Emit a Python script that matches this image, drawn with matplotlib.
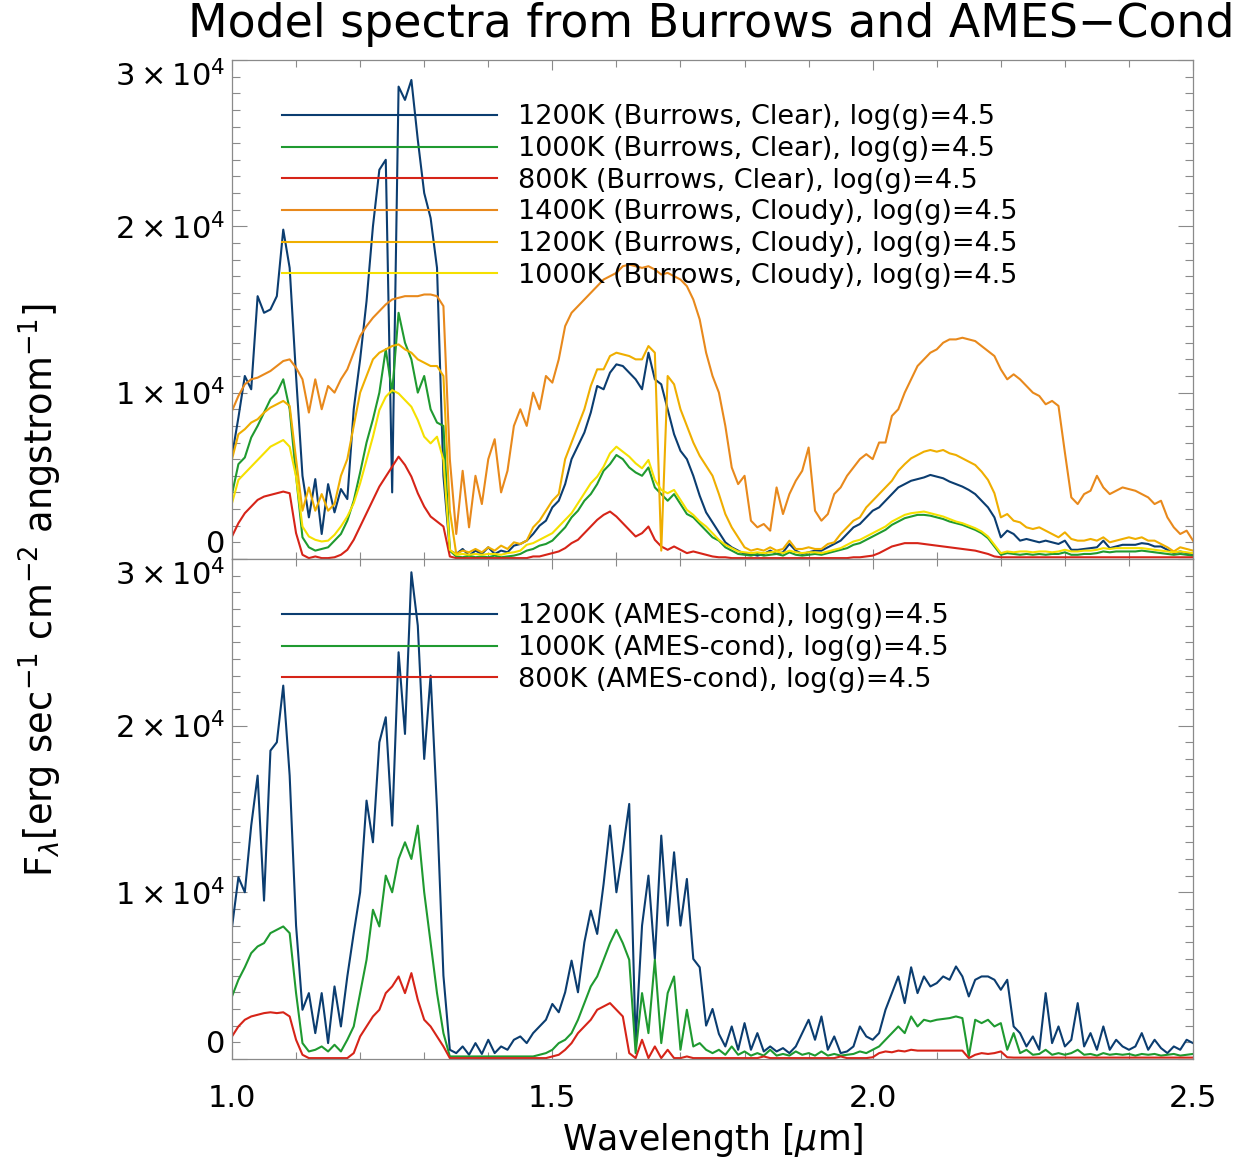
import numpy as np
import matplotlib
matplotlib.use("Agg")
import matplotlib.pyplot as plt
from matplotlib.ticker import MultipleLocator

# wavelength grid in micron (0.01 step, 1.00 ... 2.50)
wavelength = np.round(np.arange(100, 251) / 100.0, 2)

# fluxes, units of 1e3 erg s-1 cm-2 A-1
# --- Burrows models (top panel) ---
clear_1200 = [
    6.2, 8.5, 11.0, 10.2, 15.8, 14.8, 15.0, 15.8, 19.8, 17.5,
    11.0, 5.0, 2.5, 4.8, 1.5, 4.5, 2.8, 4.2, 3.6, 9.0,
    12.0, 15.5, 20.0, 23.4, 24.0, 4.0, 28.4, 27.6, 28.8, 25.2,
    22.0, 20.5, 17.5, 5.0, 0.5, 0.3, 0.6, 0.2, 0.5, 0.3,
    0.7, 0.3, 0.5, 0.4, 0.8, 0.9, 1.1, 1.5, 2.0, 2.3,
    3.1, 3.5, 4.5, 6.0, 6.8, 7.6, 8.8, 10.4, 10.2, 11.2,
    11.7, 11.6, 11.2, 10.8, 10.2, 12.4, 10.8, 10.5, 9.0, 7.5,
    6.5, 6.0, 5.0, 3.8, 2.8, 2.2, 1.6, 1.0, 0.7, 0.5,
    0.3, 0.3, 0.2, 0.3, 0.5, 0.3, 0.4, 0.9, 0.5, 0.3,
    0.4, 0.5, 0.5, 0.7, 0.9, 1.1, 1.5, 1.9, 2.1, 2.5,
    2.9, 3.1, 3.5, 3.9, 4.3, 4.5, 4.7, 4.8, 4.9, 5.05,
    4.95, 4.85, 4.65, 4.5, 4.35, 4.15, 3.9, 3.5, 3.1, 2.5,
    1.3, 1.7, 1.5, 1.1, 1.2, 1.1, 1.0, 1.1, 1.0, 0.9,
    1.1, 0.55, 0.55, 0.6, 0.65, 0.7, 1.1, 0.65, 0.75, 0.85,
    0.85, 0.85, 0.95, 0.9, 0.75, 0.75, 0.55, 0.35, 0.45, 0.35, 0.3]

clear_1000 = [
    3.9, 5.7, 6.1, 7.3, 8.0, 8.8, 9.6, 10.0, 10.8, 9.0,
    5.0, 1.3, 0.7, 0.5, 0.6, 0.7, 1.1, 1.5, 2.3, 3.5,
    5.2, 7.0, 8.4, 10.0, 12.6, 10.0, 14.8, 13.0, 12.0, 10.0,
    11.0, 9.0, 8.2, 8.0, 0.5, 0.15, 0.1, 0.2, 0.1, 0.15,
    0.1, 0.2, 0.1, 0.15, 0.2, 0.3, 0.5, 0.6, 0.8, 0.9,
    1.1, 1.5, 1.9, 2.5, 2.9, 3.5, 3.9, 4.5, 5.3, 5.7,
    6.25, 6.0, 5.5, 5.2, 5.0, 5.5, 4.3, 3.9, 3.5, 3.9,
    3.3, 2.7, 2.5, 2.1, 1.7, 1.3, 1.1, 0.7, 0.5, 0.3,
    0.25, 0.2, 0.3, 0.2, 0.25, 0.3, 0.2, 0.4, 0.25, 0.2,
    0.25, 0.3, 0.25, 0.35, 0.45, 0.55, 0.65, 0.85, 0.95, 1.15,
    1.35, 1.55, 1.75, 2.05, 2.25, 2.45, 2.55, 2.65, 2.65, 2.6,
    2.5, 2.4, 2.25, 2.15, 2.05, 1.9, 1.75, 1.55, 1.25, 0.75,
    0.25, 0.35, 0.3, 0.25, 0.3, 0.25, 0.3, 0.25, 0.3, 0.3,
    0.4, 0.25, 0.25, 0.3, 0.3, 0.35, 0.45, 0.4, 0.45, 0.45,
    0.45, 0.45, 0.5, 0.45, 0.4, 0.35, 0.3, 0.25, 0.3, 0.25, 0.2]

clear_800 = [
    1.35, 2.15, 2.75, 3.15, 3.55, 3.75, 3.85, 3.95, 4.05, 3.95,
    1.55, 0.25, 0.05, 0.15, 0.05, 0.05, 0.1, 0.25, 0.55, 1.15,
    1.95, 2.75, 3.55, 4.35, 4.95, 5.55, 6.15, 5.65, 4.95, 3.95,
    3.15, 2.55, 2.25, 1.95, 0.15, 0.05, 0.05, 0.05, 0.05, 0.05,
    0.05, 0.05, 0.05, 0.05, 0.05, 0.05, 0.05, 0.15, 0.15, 0.25,
    0.35, 0.45, 0.65, 0.95, 1.15, 1.55, 1.95, 2.35, 2.65, 2.85,
    2.55, 2.15, 1.75, 1.35, 1.55, 1.95, 1.15, 0.75, 0.55, 0.75,
    0.55, 0.35, 0.45, 0.35, 0.25, 0.15, 0.1, 0.1, 0.05, 0.05,
    0.05, 0.05, 0.05, 0.05, 0.05, 0.05, 0.05, 0.05, 0.05, 0.05,
    0.05, 0.05, 0.05, 0.05, 0.05, 0.05, 0.05, 0.1, 0.1, 0.15,
    0.2, 0.35, 0.55, 0.75, 0.85, 0.95, 0.95, 0.95, 0.9, 0.85,
    0.8, 0.75, 0.7, 0.65, 0.6, 0.55, 0.5, 0.4, 0.3, 0.15,
    0.1, 0.1, 0.1, 0.1, 0.1, 0.1, 0.1, 0.1, 0.1, 0.1,
    0.1, 0.1, 0.1, 0.1, 0.1, 0.1, 0.1, 0.1, 0.1, 0.1,
    0.1, 0.1, 0.1, 0.1, 0.1, 0.1, 0.1, 0.1, 0.1, 0.1, 0.1]

cloudy_1400 = [
    8.9, 9.8, 10.5, 10.8, 10.9, 11.1, 11.3, 11.6, 11.9, 12.0,
    11.5, 10.8, 8.8, 10.8, 9.0, 10.4, 10.0, 10.8, 11.4, 12.4,
    13.4, 14.0, 14.5, 14.9, 15.3, 15.6, 15.7, 15.8, 15.8, 15.8,
    15.9, 15.9, 15.8, 15.2, 6.0, 1.5, 5.3, 1.9, 5.0, 3.3,
    6.0, 7.2, 4.0, 5.3, 8.0, 9.0, 8.0, 10.0, 9.0, 11.0,
    10.6, 12.0, 14.0, 14.8, 15.2, 15.6, 16.0, 16.4, 16.8, 17.0,
    17.2, 17.6, 17.7, 17.6, 17.5, 17.6, 17.4, 17.1, 17.2, 17.0,
    16.8, 16.4, 15.6, 14.4, 12.4, 11.0, 10.0, 8.0, 5.5, 4.5,
    5.0, 2.3, 1.9, 2.1, 1.7, 4.3, 2.7, 3.9, 4.7, 5.3,
    6.7, 2.9, 2.3, 2.7, 3.9, 4.3, 5.0, 5.5, 6.0, 6.3,
    6.0, 7.0, 7.0, 8.6, 9.0, 10.0, 10.8, 11.6, 12.0, 12.4,
    12.6, 13.0, 13.2, 13.2, 13.3, 13.2, 13.1, 12.8, 12.5, 12.2,
    11.4, 10.8, 11.1, 10.8, 10.4, 10.0, 9.8, 9.3, 9.5, 9.2,
    6.4, 3.7, 3.3, 3.9, 4.1, 5.0, 4.3, 3.9, 4.1, 4.3,
    4.2, 4.1, 3.9, 3.7, 3.3, 3.5, 2.5, 1.9, 1.5, 1.7, 1.1]

cloudy_1200 = [
    6.0, 7.5, 7.8, 8.2, 8.4, 8.8, 9.1, 9.3, 9.5, 9.2,
    6.0, 2.9, 4.3, 2.9, 3.9, 2.9, 3.3, 5.0, 6.0, 8.0,
    10.0, 11.0, 12.0, 12.4, 12.6, 12.8, 12.9, 12.6, 12.4, 12.0,
    11.8, 11.6, 11.6, 11.0, 2.9, 0.3, 0.5, 0.4, 0.6, 0.4,
    0.7, 0.5, 0.8, 0.6, 1.0, 0.9, 1.1, 1.9, 2.3, 2.9,
    3.5, 3.9, 6.0, 7.0, 8.0, 9.0, 10.4, 11.4, 11.4, 12.2,
    12.4, 12.3, 12.2, 12.0, 12.0, 12.8, 12.4, 0.5, 11.0, 10.5,
    9.0, 8.0, 7.0, 6.2, 5.6, 5.0, 3.9, 2.7, 1.9, 1.3,
    0.7, 0.5, 0.6, 0.5, 0.7, 0.5, 0.6, 1.1, 0.6, 0.6,
    0.7, 0.6, 0.6, 0.9, 1.0, 1.5, 1.9, 2.3, 2.5, 3.1,
    3.5, 3.9, 4.3, 4.7, 5.3, 5.7, 6.05, 6.25, 6.45, 6.55,
    6.45, 6.55, 6.35, 6.25, 6.05, 5.85, 5.65, 5.25, 4.75, 3.95,
    2.5, 2.7, 2.3, 2.2, 1.9, 1.8, 1.9, 1.7, 1.5, 1.3,
    1.6, 1.2, 1.1, 1.1, 1.2, 1.1, 1.3, 1.0, 1.1, 1.2,
    1.3, 1.2, 1.3, 1.1, 1.1, 0.9, 0.7, 0.45, 0.7, 0.6, 0.5]

cloudy_1000 = [
    3.35, 4.75, 5.15, 5.55, 5.95, 6.35, 6.75, 6.95, 7.15, 6.75,
    4.95, 1.95, 1.35, 1.15, 1.05, 1.1, 1.45, 1.95, 2.55, 3.35,
    4.55, 5.95, 7.35, 8.95, 9.75, 10.15, 9.95, 9.55, 9.15, 8.35,
    7.35, 6.95, 7.35, 5.95, 0.55, 0.25, 0.3, 0.25, 0.3, 0.25,
    0.3, 0.3, 0.25, 0.35, 0.4, 0.5, 0.85, 0.95, 1.15, 1.35,
    1.55, 1.95, 2.35, 2.75, 3.35, 3.95, 4.55, 4.95, 5.55, 6.35,
    6.75, 6.45, 6.15, 5.75, 5.45, 5.95, 4.75, 4.15, 3.95, 4.15,
    3.55, 2.95, 2.65, 2.25, 1.95, 1.55, 1.15, 0.85, 0.65, 0.45,
    0.4, 0.35, 0.4, 0.35, 0.4, 0.45, 0.35, 0.5, 0.4, 0.35,
    0.4, 0.4, 0.35, 0.45, 0.55, 0.65, 0.85, 1.05, 1.15, 1.35,
    1.55, 1.75, 1.95, 2.25, 2.45, 2.65, 2.75, 2.8, 2.85, 2.75,
    2.65, 2.55, 2.4, 2.25, 2.15, 2.0, 1.85, 1.65, 1.35, 0.85,
    0.35, 0.45, 0.4, 0.45, 0.45, 0.4, 0.45, 0.45, 0.4, 0.45,
    0.55, 0.45, 0.45, 0.5, 0.5, 0.55, 0.65, 0.6, 0.65, 0.65,
    0.65, 0.65, 0.65, 0.6, 0.55, 0.5, 0.45, 0.4, 0.45, 0.4, 0.35]

# --- AMES-cond models (bottom panel) ---
ames_1200 = [
    7.9, 10.9, 10.0, 14.0, 17.0, 9.5, 18.5, 19.0, 22.4, 17.0,
    8.0, 2.95, 3.95, 1.55, 3.95, 0.95, 4.35, 1.95, 4.95, 7.55,
    10.0, 15.5, 13.0, 19.0, 20.5, 14.0, 24.4, 19.5, 29.2, 26.0,
    18.0, 23.0, 15.0, 5.0, 0.55, 0.35, 0.75, 0.25, 0.95, 0.3,
    1.15, 0.35, 0.75, 0.55, 1.15, 1.35, 0.95, 1.55, 1.95, 2.35,
    3.3, 2.8, 4.0, 5.9, 4.0, 7.0, 8.9, 7.5, 10.5, 14.0,
    10.0, 12.5, 15.3, 1.0, 8.0, 11.0, 6.0, 13.4, 8.0, 12.4,
    8.0, 10.8, 6.0, 5.5, 2.0, 3.0, 1.5, 0.75, 1.95, 0.55,
    2.15, 0.55, 1.55, 0.45, 0.75, 0.45, 0.65, 0.35, 0.75, 1.55,
    2.35, 1.15, 2.55, 0.55, 1.35, 0.35, 0.45, 0.75, 1.95, 1.35,
    1.15, 1.55, 2.95, 3.95, 4.95, 3.35, 5.5, 3.95, 4.95, 4.35,
    4.55, 4.95, 4.75, 5.55, 4.95, 3.75, 4.75, 4.95, 4.95, 4.75,
    4.15, 4.75, 1.95, 1.55, 0.75, 1.35, 0.55, 3.95, 0.95, 1.95,
    0.75, 1.15, 3.35, 0.75, 1.55, 0.55, 1.95, 0.55, 1.15, 0.75,
    0.55, 0.75, 1.55, 0.55, 1.15, 0.65, 0.35, 0.75, 0.55, 1.15, 0.95]

ames_1000 = [
    3.75, 4.75, 5.5, 6.35, 6.75, 6.95, 7.55, 7.75, 7.95, 7.55,
    3.95, 0.95, 0.45, 0.55, 0.75, 0.45, 0.85, 0.45, 1.15, 1.95,
    3.95, 5.95, 8.95, 7.95, 11.0, 10.0, 12.0, 13.0, 12.0, 14.0,
    10.0, 6.95, 3.95, 1.55, 0.15, 0.15, 0.15, 0.15, 0.15, 0.15,
    0.15, 0.15, 0.15, 0.15, 0.15, 0.15, 0.15, 0.15, 0.25, 0.35,
    0.55, 0.95, 1.15, 1.55, 2.35, 3.35, 4.35, 4.95, 5.95, 6.95,
    7.75, 6.95, 5.95, 0.35, 3.95, 1.55, 5.95, 0.95, 3.95, 4.95,
    0.55, 2.95, 0.75, 0.95, 0.55, 0.35, 0.55, 0.25, 0.75, 0.25,
    0.45, 0.2, 0.35, 0.2, 0.55, 0.2, 0.3, 0.2, 0.45, 0.25,
    0.35, 0.2, 0.45, 0.2, 0.3, 0.2, 0.25, 0.3, 0.45, 0.35,
    0.55, 0.75, 1.15, 1.55, 1.95, 1.55, 2.55, 1.95, 2.35, 2.25,
    2.35, 2.4, 2.45, 2.55, 2.45, 0.15, 2.35, 2.15, 2.35, 1.95,
    2.15, 0.55, 1.55, 0.35, 0.55, 0.25, 0.3, 0.55, 0.25, 0.35,
    0.25, 0.35, 0.55, 0.25, 0.3, 0.2, 0.35, 0.25, 0.3, 0.25,
    0.3, 0.2, 0.3, 0.25, 0.3, 0.2, 0.25, 0.3, 0.2, 0.25, 0.3]

ames_800 = [
    1.35, 1.95, 2.35, 2.55, 2.65, 2.75, 2.8, 2.75, 2.8, 2.55,
    1.15, 0.25, 0.05, 0.05, 0.05, 0.05, 0.05, 0.05, 0.05, 0.35,
    1.35, 1.95, 2.55, 2.95, 3.95, 4.35, 4.95, 3.95, 5.15, 3.55,
    2.35, 1.95, 1.35, 0.75, 0.05, 0.05, 0.05, 0.05, 0.05, 0.05,
    0.05, 0.05, 0.05, 0.05, 0.05, 0.05, 0.05, 0.05, 0.05, 0.05,
    0.15, 0.25, 0.55, 0.95, 1.55, 1.95, 2.35, 2.95, 3.15, 3.35,
    2.95, 2.55, 0.35, 0.05, 1.15, 0.05, 0.75, 0.05, 0.55, 0.05,
    0.05, 0.15, 0.05, 0.05, 0.05, 0.05, 0.05, 0.05, 0.05, 0.05,
    0.05, 0.05, 0.05, 0.15, 0.05, 0.05, 0.05, 0.05, 0.05, 0.05,
    0.05, 0.05, 0.05, 0.05, 0.05, 0.15, 0.05, 0.05, 0.05, 0.05,
    0.1, 0.35, 0.45, 0.4, 0.5, 0.45, 0.55, 0.5, 0.5, 0.5,
    0.5, 0.5, 0.5, 0.5, 0.5, 0.05, 0.25, 0.35, 0.3, 0.35,
    0.45, 0.1, 0.08, 0.08, 0.08, 0.08, 0.08, 0.08, 0.08, 0.08,
    0.08, 0.08, 0.08, 0.08, 0.08, 0.08, 0.08, 0.08, 0.08, 0.08,
    0.08, 0.08, 0.08, 0.08, 0.08, 0.08, 0.08, 0.08, 0.08, 0.08, 0.08]

top_series = [clear_1200, clear_1000, clear_800, cloudy_1400, cloudy_1200, cloudy_1000]
top_labels = ["1200K (Burrows, Clear), log(g)=4.5",
              "1000K (Burrows, Clear), log(g)=4.5",
              "800K (Burrows, Clear), log(g)=4.5",
              "1400K (Burrows, Cloudy), log(g)=4.5",
              "1200K (Burrows, Cloudy), log(g)=4.5",
              "1000K (Burrows, Cloudy), log(g)=4.5"]
top_colors = ["#0b3d70", "#1f9a30", "#d62418", "#e8891c", "#efae00", "#f5e000"]

bottom_series = [ames_1200, ames_1000, ames_800]
bottom_labels = ["1200K (AMES-cond), log(g)=4.5",
                 "1000K (AMES-cond), log(g)=4.5",
                 "800K (AMES-cond), log(g)=4.5"]
bottom_colors = ["#0b3d70", "#1f9a30", "#d62418"]

ytick_vals = [0, 1e4, 2e4, 3e4]
ytick_text = ["0", r"$1\times10^{4}$", r"$2\times10^{4}$", r"$3\times10^{4}$"]
xtick_vals = [1.0, 1.5, 2.0, 2.5]
xtick_text = ["1.0", "1.5", "2.0", "2.5"]

plt.rcParams["font.family"] = ["DejaVu Sans"]
plt.rcParams["mathtext.fontset"] = "dejavusans"


def style_axes(ax, show_x):
    ax.set_xlim(1.0, 2.5)
    ax.set_ylim(0, 3e4)
    ax.set_xticks(xtick_vals)
    ax.set_xticklabels(xtick_text if show_x else [])
    ax.xaxis.set_minor_locator(MultipleLocator(0.1))
    ax.set_yticks(ytick_vals)
    ax.set_yticklabels(ytick_text)
    ax.yaxis.set_minor_locator(MultipleLocator(1000))
    ax.tick_params(which="both", direction="in", top=True, right=True,
                   color="#8a8a8a", width=0.8)
    ax.tick_params(axis="y", which="major", length=11, labelsize=22, pad=5)
    ax.tick_params(axis="y", which="minor", length=6)
    ax.tick_params(axis="x", which="major", length=7, labelsize=22, pad=18,
                   labelbottom=show_x)
    ax.tick_params(axis="x", which="minor", length=5)
    for sp in ax.spines.values():
        sp.set_color("#8a8a8a")
        sp.set_linewidth(0.9)
    # keep edge labels inside the panel like the original
    yt = ax.yaxis.get_major_ticks()
    yt[0].label1.set_va("bottom")
    yt[-1].label1.set_va("top")


fig = plt.figure(figsize=(12.52, 11.74), dpi=100)
ax1 = fig.add_axes([0.1853, 0.5239, 0.7676, 0.4250])
ax2 = fig.add_axes([0.1853, 0.0980, 0.7676, 0.4259])

for flux, lab, col in zip(top_series, top_labels, top_colors):
    ax1.plot(wavelength, np.array(flux) * 1e3, color=col, lw=1.5, label=lab)
for flux, lab, col in zip(bottom_series, bottom_labels, bottom_colors):
    ax2.plot(wavelength, np.array(flux) * 1e3, color=col, lw=1.5, label=lab)

style_axes(ax1, False)
style_axes(ax2, True)

for ax in (ax1, ax2):
    ax.legend(loc="upper left", bbox_to_anchor=(0.052, 0.911), frameon=False,
              fontsize=19.5, handlelength=7.95, handletextpad=0.75,
              labelspacing=0.21, borderpad=0, borderaxespad=0)

ax2.set_xlabel(r"Wavelength [$\mu$m]", fontsize=25, labelpad=6)
fig.text(0.032, 0.497,
         r"F$_\lambda$[erg sec$^{-1}$ cm$^{-2}$ angstrom$^{-1}$]",
         rotation=90, ha="center", va="center", fontsize=26.5)
fig.text(0.568, 0.979, "Model spectra from Burrows and AMES\u2212Cond",
         ha="center", va="center", fontsize=33)

fig.savefig("out.png", dpi=100)
